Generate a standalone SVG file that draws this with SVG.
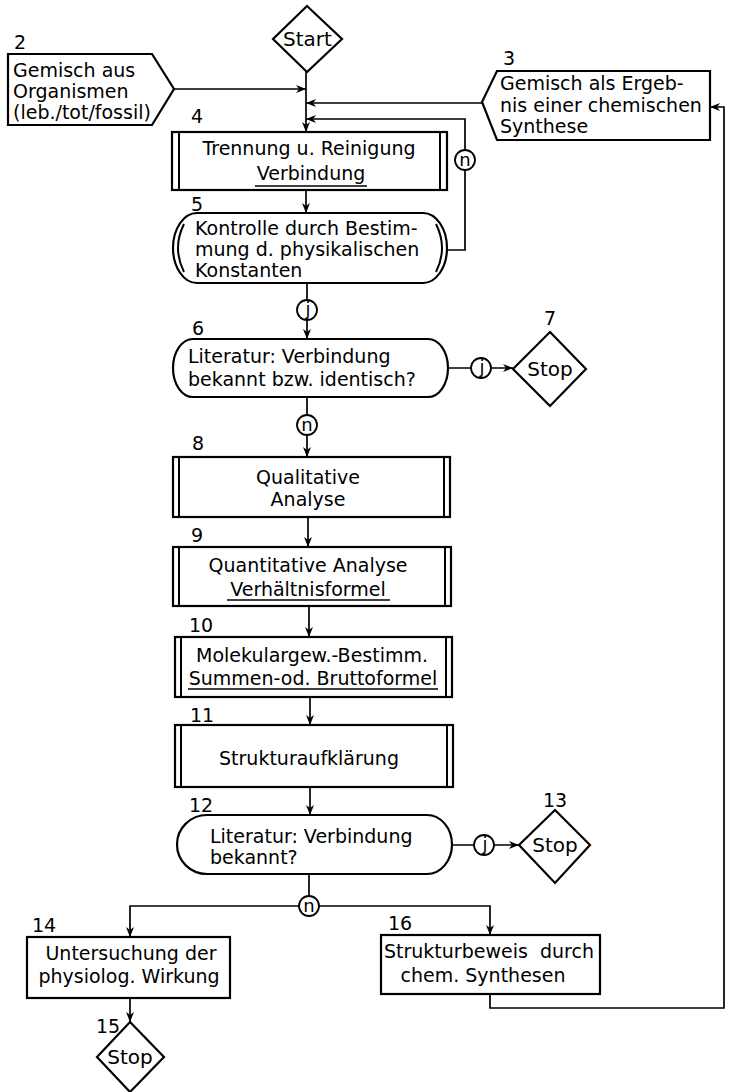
<svg xmlns="http://www.w3.org/2000/svg" width="736" height="1092" viewBox="0 0 736 1092">
<style>
  .shape{fill:#fff;stroke:#000;stroke-width:2.2}
  .bar{fill:none;stroke:#000;stroke-width:2}
  .conn{fill:none;stroke:#000;stroke-width:1.7}
  .ul{stroke:#000;stroke-width:1.6}
  text{font-family:"DejaVu Sans","Liberation Sans",sans-serif;font-size:19px;fill:#000}
  .c{text-anchor:middle}
  .lbl{font-size:19px}
  .sm{font-size:18px;text-anchor:middle}
  .circ{fill:#fff;stroke:#000;stroke-width:1.8}
</style>
<defs>
  <marker id="ah" viewBox="0 0 10 8" markerWidth="10" markerHeight="8" refX="10" refY="4" orient="auto" markerUnits="userSpaceOnUse">
    <path d="M0,0 L10,4 L0,8 L3,4 Z" fill="#000"/>
  </marker>
</defs>
<rect width="736" height="1092" fill="#fff"/>

<g id="connectors">
  <line class="conn" x1="306" y1="72" x2="306" y2="132" marker-end="url(#ah)"/>
  <line class="conn" x1="174" y1="89" x2="306" y2="89" marker-end="url(#ah)"/>
  <line class="conn" x1="482" y1="103" x2="306" y2="103" marker-end="url(#ah)"/>
  <polyline class="conn" points="447,250 465,250 465,119 306,119" marker-end="url(#ah)"/>
  <line class="conn" x1="306" y1="190" x2="306" y2="213" marker-end="url(#ah)"/>
  <line class="conn" x1="307" y1="283" x2="307" y2="339" marker-end="url(#ah)"/>
  <line class="conn" x1="448" y1="368" x2="513" y2="368" marker-end="url(#ah)"/>
  <line class="conn" x1="307" y1="397" x2="307" y2="457" marker-end="url(#ah)"/>
  <line class="conn" x1="308" y1="517" x2="308" y2="547" marker-end="url(#ah)"/>
  <line class="conn" x1="309" y1="606" x2="309" y2="637" marker-end="url(#ah)"/>
  <line class="conn" x1="310" y1="697" x2="310" y2="725" marker-end="url(#ah)"/>
  <line class="conn" x1="310" y1="787" x2="310" y2="815" marker-end="url(#ah)"/>
  <line class="conn" x1="452" y1="845" x2="519" y2="845" marker-end="url(#ah)"/>
  <line class="conn" x1="309" y1="874" x2="309" y2="906"/>
  <polyline class="conn" points="309,906 130,906 130,937" marker-end="url(#ah)"/>
  <polyline class="conn" points="309,906 490,906 490,935" marker-end="url(#ah)"/>
  <line class="conn" x1="130" y1="998" x2="130" y2="1022" marker-end="url(#ah)"/>
  <polyline class="conn" points="490,994 490,1008 724,1008 724,107 710,107" marker-end="url(#ah)"/>
  <circle class="circ" cx="465" cy="160" r="10"/><text class="sm" x="465" y="166">n</text>
  <circle class="circ" cx="307" cy="310" r="10"/><text class="sm" x="308" y="315">j</text>
  <circle class="circ" cx="481" cy="368" r="10"/><text class="sm" x="482" y="373">j</text>
  <circle class="circ" cx="307" cy="425" r="10"/><text class="sm" x="307" y="431">n</text>
  <circle class="circ" cx="484" cy="845" r="10"/><text class="sm" x="485" y="850">j</text>
  <circle class="circ" cx="309" cy="906" r="10"/><text class="sm" x="309" y="912">n</text>
</g>

<g id="start">
  <polygon class="shape" points="307,6 342,39 307,72 273,39"/>
  <text class="c" x="307.5" y="46" style="font-size:20px">Start</text>
</g>

<g id="node2">
  <text class="lbl" x="14" y="49">2</text>
  <polygon class="shape" points="8,54 152,54 174,89 152,125 8,125"/>
  <text x="13" y="77">Gemisch aus</text>
  <text x="13" y="98">Organismen</text>
  <text x="13" y="119">(leb./tot/fossil)</text>
</g>

<g id="node3">
  <text class="lbl" x="503" y="65">3</text>
  <polygon class="shape" points="497,71 710,71 710,140 497,140 482,102"/>
  <text x="500" y="90">Gemisch als Ergeb-</text>
  <text x="500" y="112">nis einer chemischen</text>
  <text x="500" y="133">Synthese</text>
</g>

<g id="node4">
  <text class="lbl" x="191" y="123">4</text>
  <rect class="shape" x="172" y="132" width="275" height="58"/>
  <line class="bar" x1="179" y1="132" x2="179" y2="190"/>
  <line class="bar" x1="440" y1="132" x2="440" y2="190"/>
  <text class="c" x="309" y="155">Trennung u. Reinigung</text>
  <text class="c" x="311" y="180">Verbindung</text>
  <line class="ul" x1="255" y1="186" x2="367" y2="186"/>
</g>

<g id="node5">
  <text class="lbl" x="191" y="211">5</text>
  <path class="shape" d="M197,213 H423 A24 35 0 0 1 423,283 H197 A24 35 0 0 1 197,213 Z"/>
  <path class="bar" d="M184,224 Q172,248 184,272"/>
  <path class="bar" d="M436,224 Q448,248 436,272"/>
  <text x="195" y="235">Kontrolle durch Bestim-</text>
  <text x="195" y="256">mung d. physikalischen</text>
  <text x="195" y="277">Konstanten</text>
</g>

<g id="node6">
  <text class="lbl" x="192" y="335">6</text>
  <path class="shape" d="M193,339 H428 A20 29 0 0 1 428,397 H193 A20 29 0 0 1 193,339 Z"/>
  <text x="188" y="363">Literatur: Verbindung</text>
  <text x="188" y="386">bekannt bzw. identisch?</text>
</g>

<g id="node7">
  <text class="lbl c" x="550" y="325">7</text>
  <polygon class="shape" points="550,332 586,369 550,406 513,369"/>
  <text class="c" x="550" y="376" style="font-size:20px">Stop</text>
</g>

<g id="node8">
  <text class="lbl" x="192" y="450">8</text>
  <rect class="shape" x="173" y="457" width="277" height="60"/>
  <line class="bar" x1="179" y1="457" x2="179" y2="517"/>
  <line class="bar" x1="444" y1="457" x2="444" y2="517"/>
  <text class="c" x="308" y="484">Qualitative</text>
  <text class="c" x="308" y="506">Analyse</text>
</g>

<g id="node9">
  <text class="lbl" x="191" y="542">9</text>
  <rect class="shape" x="173" y="547" width="278" height="59"/>
  <line class="bar" x1="179" y1="547" x2="179" y2="606"/>
  <line class="bar" x1="445" y1="547" x2="445" y2="606"/>
  <text class="c" x="308" y="572">Quantitative Analyse</text>
  <text class="c" x="308" y="596">Verhältnisformel</text>
  <line class="ul" x1="227" y1="600" x2="390" y2="600"/>
</g>

<g id="node10">
  <text class="lbl" x="189" y="632">10</text>
  <rect class="shape" x="175" y="637" width="277" height="60"/>
  <line class="bar" x1="181" y1="637" x2="181" y2="697"/>
  <line class="bar" x1="446" y1="637" x2="446" y2="697"/>
  <text class="c" x="312" y="662">Molekulargew.-Bestimm.</text>
  <text class="c" x="313" y="685">Summen-od. Bruttoformel</text>
  <line class="ul" x1="188" y1="689" x2="438" y2="689"/>
</g>

<g id="node11">
  <text class="lbl" x="190" y="722">11</text>
  <rect class="shape" x="175" y="725" width="278" height="62"/>
  <line class="bar" x1="181" y1="725" x2="181" y2="787"/>
  <line class="bar" x1="447" y1="725" x2="447" y2="787"/>
  <text class="c" x="309" y="765">Strukturaufklärung</text>
</g>

<g id="node12">
  <text class="lbl" x="189" y="812">12</text>
  <path class="shape" d="M207,815 H427 A25 29.5 0 0 1 427,874 H207 A30 29.5 0 0 1 207,815 Z"/>
  <text x="210" y="843">Literatur: Verbindung</text>
  <text x="210" y="864">bekannt?</text>
</g>

<g id="node13">
  <text class="lbl c" x="555" y="807">13</text>
  <polygon class="shape" points="555,810 590,845 555,883 519,845"/>
  <text class="c" x="555" y="852" style="font-size:20px">Stop</text>
</g>

<g id="node14">
  <text class="lbl" x="32" y="932">14</text>
  <rect class="shape" x="27" y="937" width="203" height="61"/>
  <text class="c" x="131" y="960">Untersuchung der</text>
  <text class="c" x="129" y="983">physiolog. Wirkung</text>
</g>

<g id="node15">
  <text class="lbl" x="96" y="1033">15</text>
  <polygon class="shape" points="130,1022 164,1057 130,1092 97,1057"/>
  <text class="c" x="130" y="1064" style="font-size:20px">Stop</text>
</g>

<g id="node16">
  <text class="lbl" x="388" y="930">16</text>
  <rect class="shape" x="381" y="935" width="219" height="59"/>
  <text x="384" y="958">Strukturbeweis</text>
  <text x="594" y="958" style="text-anchor:end">durch</text>
  <text class="c" x="483" y="982">chem. Synthesen</text>
</g>
</svg>
